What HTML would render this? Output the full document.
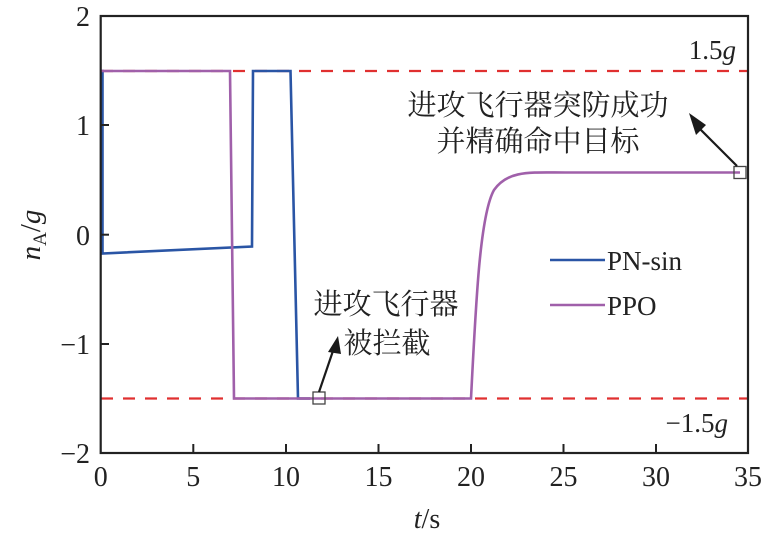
<!DOCTYPE html>
<html><head><meta charset="utf-8"><style>
body{margin:0;background:#fff}
svg text{font-family:"Liberation Serif","Noto Serif CJK SC",serif;fill:#222}
</style></head><body>
<svg width="777" height="534" viewBox="0 0 777 534" xmlns="http://www.w3.org/2000/svg">
<line x1="101" y1="71" x2="748" y2="71" stroke="#e03030" stroke-width="2.2" stroke-dasharray="12,10"/>
<line x1="101" y1="398.5" x2="748" y2="398.5" stroke="#e03030" stroke-width="2.2" stroke-dasharray="12,10"/>
<polyline fill="none" stroke="#2a55a5" stroke-width="2.6" points="101,71 102.5,71 102.5,253.5 252,246.5 253,71 290.5,71 298,398.5 310,398.5"/>
<path fill="none" stroke="#a060aa" stroke-width="2.6" d="M101,71 L230,71 L234,398.5 L471,398.5 C476,300 480,215 494,190 C508,170 530,172.5 565,172.5 L740,172.5"/>
<rect x="313" y="392" width="12" height="12" fill="none" stroke="#444" stroke-width="1.3"/>
<rect x="734" y="166.5" width="12" height="12" fill="none" stroke="#444" stroke-width="1.3"/>
<line x1="319" y1="392" x2="335" y2="345" stroke="#1a1a1a" stroke-width="2.2"/>
<path d="M338,336 L328,352 L341,354 z" fill="#1a1a1a"/>
<line x1="737" y1="166" x2="697" y2="126" stroke="#1a1a1a" stroke-width="2.2"/>
<path d="M689,113 L706,125 L696,135 z" fill="#1a1a1a"/>
<rect x="100.7" y="16" width="647.3" height="437" fill="none" stroke="#222" stroke-width="2.2"/>
<g stroke="#222" stroke-width="2">
<line x1="100.7" y1="125" x2="109" y2="125"/><line x1="100.7" y1="234.7" x2="109" y2="234.7"/>
<line x1="100.7" y1="344" x2="109" y2="344"/>
<line x1="193.3" y1="453" x2="193.3" y2="444"/><line x1="286" y1="453" x2="286" y2="444"/>
<line x1="378.5" y1="453" x2="378.5" y2="444"/><line x1="471" y1="453" x2="471" y2="444"/>
<line x1="563.5" y1="453" x2="563.5" y2="444"/><line x1="656" y1="453" x2="656" y2="444"/>
</g>
<g font-size="28" text-anchor="end">
<text x="90" y="26">2</text><text x="90" y="135">1</text><text x="90" y="245">0</text>
<text x="90" y="354">−1</text><text x="90" y="463">−2</text>
</g>
<g font-size="28" text-anchor="middle">
<text x="100.7" y="486">0</text><text x="193.3" y="486">5</text><text x="286" y="486">10</text>
<text x="378.5" y="486">15</text><text x="471" y="486">20</text><text x="563.5" y="486">25</text>
<text x="656" y="486">30</text><text x="748" y="486">35</text>
</g>
<text x="427" y="528" font-size="28" text-anchor="middle"><tspan font-style="italic">t</tspan>/s</text>
<text transform="translate(40,235) rotate(-90)" font-size="29" text-anchor="middle"><tspan font-style="italic">n</tspan><tspan font-size="19" dy="6">A</tspan><tspan dy="-6">/</tspan><tspan font-style="italic">g</tspan></text>
<text x="736" y="59" font-size="27" text-anchor="end">1.5<tspan font-style="italic">g</tspan></text>
<text x="728" y="432" font-size="27" text-anchor="end">−1.5<tspan font-style="italic">g</tspan></text>
<line x1="550" y1="260" x2="605" y2="260" stroke="#2a55a5" stroke-width="2.6"/>
<line x1="550" y1="305" x2="605" y2="305" stroke="#a060aa" stroke-width="2.6"/>
<text x="607" y="270" font-size="27">PN-sin</text>
<text x="607" y="315" font-size="27">PPO</text>
<g font-size="29" text-anchor="middle">
<text x="538" y="115">进攻飞行器突防成功</text>
<text x="538" y="151">并精确命中目标</text>
<text x="386" y="314">进攻飞行器</text>
<text x="387" y="353">被拦截</text>
</g>
</svg>
</body></html>
